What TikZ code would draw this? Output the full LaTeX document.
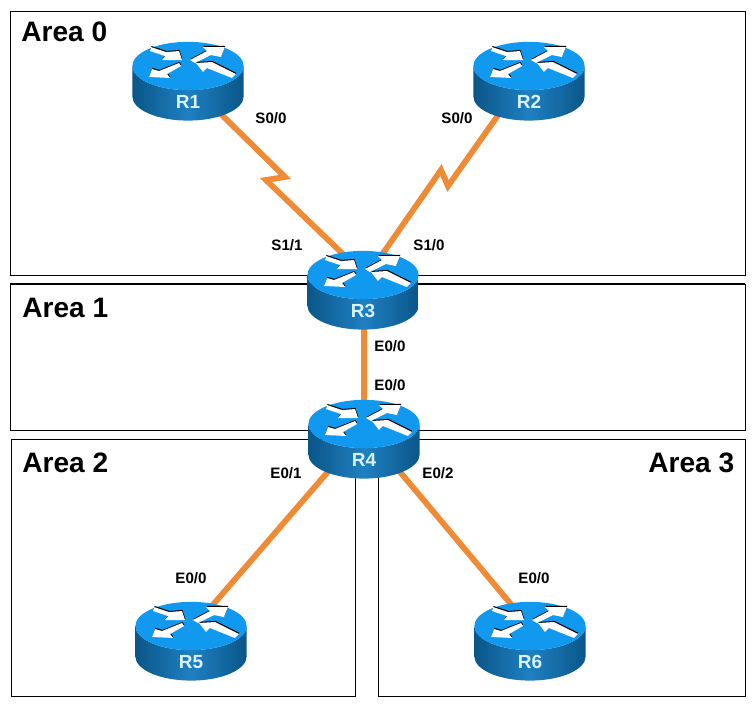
\documentclass[tikz,border=0pt]{standalone}
\usepackage{fontspec}
\setmainfont{Liberation Sans}
\usetikzlibrary{backgrounds,calc,positioning}
\definecolor{rtop}{HTML}{1199F0}
\definecolor{rdark}{HTML}{0A5688}
\definecolor{rmid}{HTML}{1F80C2}
\definecolor{rtext}{HTML}{D8F2FF}
\definecolor{linkc}{HTML}{F08A35}
\tikzset{
  areabox/.style={draw=black,line width=0.5pt},
  arealabel/.style={font=\bfseries\fontsize{16}{18}\selectfont,inner sep=0pt,anchor=west},
  iflabel/.style={font=\bfseries\fontsize{8.6}{10}\selectfont,inner sep=0pt},
  link/.style={draw=linkc,line width=3.3pt,line join=miter},
}
% one white arrow on the top face, with a black edge above it
\newcommand{\rarrow}[1]{
  \fill[black,shift={(0.4,-1.1)}] #1;
  \fill[white] #1;
}
% name, x, y of the top face
\newcommand{\router}[3]{
  \begin{scope}[shift={(#2,#3)},scale=1.05]
  \node[minimum width=2.2cm,minimum height=1.6cm,inner sep=0pt] (#1) at (0,15) {};
  \shade[left color=rdark,right color=rdark,middle color=rmid]
    (-53,0) -- (-53,29) arc[start angle=180,end angle=0,x radius=53,y radius=23]
    -- (53,0) arc[start angle=0,end angle=180,x radius=53,y radius=23] -- cycle;
  \fill[rtop] (0,0) ellipse[x radius=53,y radius=23];
  \begin{scope}[scale=0.95]
  \rarrow{(-37,-19) -- (-22,-14) -- (-9,-15) -- (-6,-6) -- (-26,-6) -- (-23,-10) -- (-38,-15) -- cycle}
  \rarrow{(2,-6) -- (19,-15) -- (15,-19) -- (37,-19) -- (33,-9) -- (23,-11) -- (7,-3) -- cycle}
  \rarrow{(-39,11) -- (-36,3) -- (-29,5) -- (-9,-3) -- (-7,0) -- (-21,8) -- (-18,12) -- cycle}
  \rarrow{(8,-3) -- (24,-4) -- (48,8) -- (44,12) -- (19,2) -- (15,6) -- cycle}
  \end{scope}
  \node[text=rtext,font=\bfseries\fontsize{10.8}{13}\selectfont,inner sep=0pt] (#1t) at (0,34) {#1};
  \end{scope}
}
\begin{document}
\begin{tikzpicture}[x=0.02cm,y=-0.02cm]
\useasboundingbox (0,0) rectangle (755,706);
\router{R1}{188}{66}
\router{R2}{529}{66}
\router{R3}{363}{275}
\router{R4}{364}{424}
\router{R5}{191}{626}
\router{R6}{530}{626}
\coordinate (z1a) at (285,177);
\coordinate (z1b) at (266,180);
\coordinate (z2a) at (448,186);
\coordinate (z2b) at (441,170);
\begin{scope}[on background layer]
\draw[areabox] (10,11) rectangle (745,275);
\draw[areabox] (10,284) rectangle (745,430);
\draw[black,line width=0.9pt] (10,284) -- (745,284);
\draw[areabox] (11,439) rectangle (355,696);
\draw[areabox] (378,439) rectangle (745,696);
\draw[link] (R1.center) -- (z1a) -- (z1b) -- ([shift={(-9,-26)}]R3.center);
\draw[link] ([shift={(-20,18)}]R2.center) -- (z2a) -- (z2b) -- ([shift={(12,-26)}]R3.center);
\draw[link] (R3.center -| R4.center) -- (R4.center);
\draw[link] ([shift={(-30,25)}]R4.center) -- ([shift={(9,-22)}]R5.center);
\draw[link] ([shift={(30,25)}]R4.center) -- ([shift={(-6,-22)}]R6.center);
\end{scope}
\node[arealabel] (a0) at (21,32) {Area 0};
\node[arealabel] (a1) at (22,308) {Area 1};
\node[arealabel] (a2) at (22,463) {Area 2};
\node[arealabel] (a3) at (648,463) {Area 3};
\node[iflabel] (s1) at (271,118) {S0/0};
\node[iflabel] (s2) at (457,118) {S0/0};
\node[iflabel] (s3) at (287,245) {S1/1};
\node[iflabel] (s4) at (429,245) {S1/0};
\node[iflabel] (e1) at (390,346) {E0/0};
\node[iflabel] (e2) at (390,385) {E0/0};
\node[iflabel] (e3) at (286,473) {E0/1};
\node[iflabel] (e4) at (438,473) {E0/2};
\node[iflabel] (e5) at (191,578) {E0/0};
\node[iflabel] (e6) at (534,578) {E0/0};
\end{tikzpicture}
\end{document}
